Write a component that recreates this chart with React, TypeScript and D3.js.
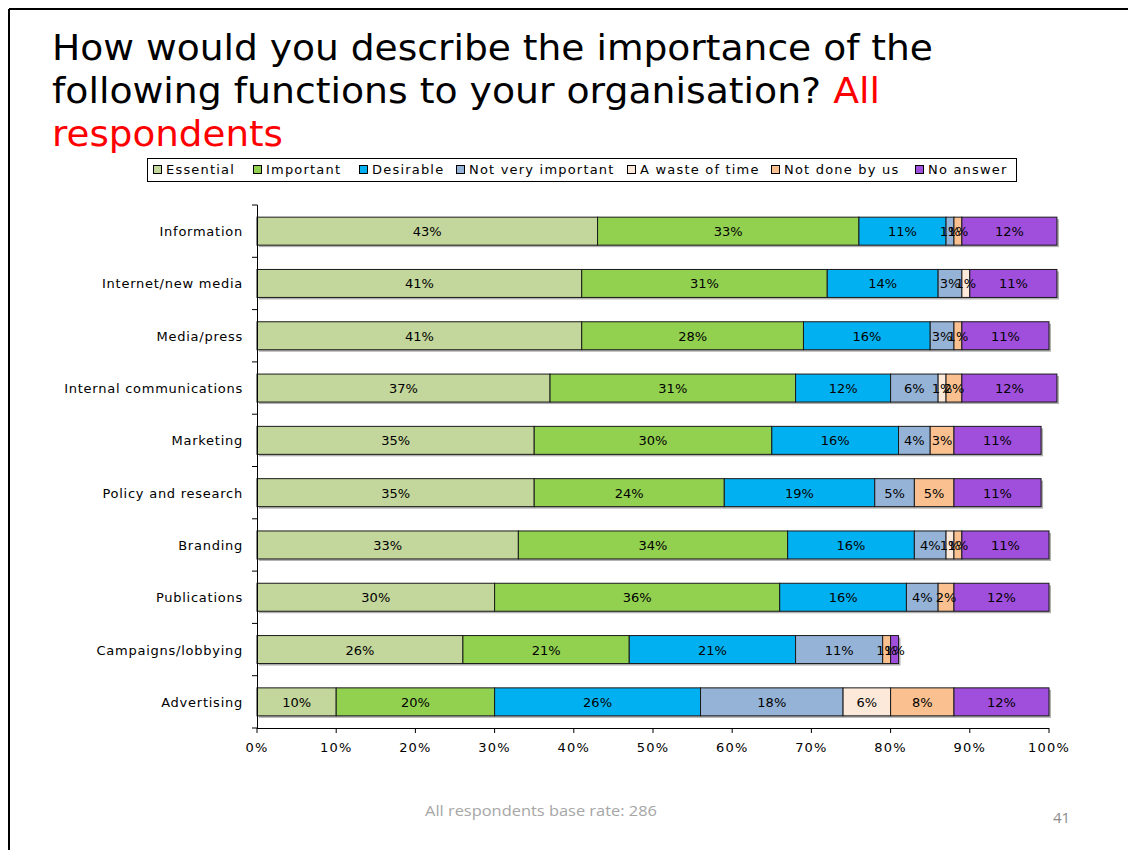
import React from "react";
import * as d3 from "d3";

const categories = [
  "Information",
  "Internet/new media",
  "Media/press",
  "Internal communications",
  "Marketing",
  "Policy and research",
  "Branding",
  "Publications",
  "Campaigns/lobbying",
  "Advertising",
];
const seriesNames = [
  "Essential",
  "Important",
  "Desirable",
  "Not very important",
  "A waste of time",
  "Not done by us",
  "No answer",
];
const essential = [43, 41, 41, 37, 35, 35, 33, 30, 26, 10];
const important = [33, 31, 28, 31, 30, 24, 34, 36, 21, 20];
const desirable = [11, 14, 16, 12, 16, 19, 16, 16, 21, 26];
const notVeryImportant = [1, 3, 3, 6, 4, 5, 4, 4, 11, 18];
const wasteOfTime = [0, 1, 0, 1, 0, 0, 1, 0, 0, 6];
const notDoneByUs = [1, 0, 1, 2, 3, 5, 1, 2, 1, 8];
const noAnswer = [12, 11, 11, 12, 11, 11, 11, 12, 1, 12];
const xTicks = [0, 10, 20, 30, 40, 50, 60, 70, 80, 90, 100];

const colors = ["#c3d69b", "#92d050", "#00b0f0", "#95b3d7", "#fde9d9", "#fac090", "#a04fdd"];
const legendX = [153, 253, 359, 456, 627, 771, 915];

const seriesValues = [essential, important, desirable, notVeryImportant, wasteOfTime, notDoneByUs, noAnswer];

const FONT = "'DejaVu Sans', Verdana, sans-serif";

export default function App() {
  const x = d3.scaleLinear().domain([0, 100]).range([257, 1049]);
  const y = d3.scaleBand<string>().domain(categories).range([205, 728]).paddingInner(0.465).paddingOuter(0.2325);
  const step = y.step();

  const rows = categories.map((c, i) => {
    const vals = seriesValues.map((s) => s[i]);
    const stack: { x0: number; x1: number; v: number; k: number }[] = [];
    let acc = 0;
    vals.forEach((v, k) => {
      stack.push({ x0: acc, x1: acc + v, v, k });
      acc += v;
    });
    return { c, stack, total: acc };
  });

  return (
    <svg width={1128} height={850} style={{ position: "absolute", left: 0, top: 0, background: "#fff" }}>
      {/* slide border */}
      <line x1={9} y1={9} x2={1128} y2={9} stroke="#000" strokeWidth={2} />
      <line x1={9} y1={9} x2={9} y2={850} stroke="#000" strokeWidth={2} />

      {/* title */}
      <g fontFamily={FONT} fontSize={36}>
        <text x={52} y={60} fill="#000" textLength={881} lengthAdjust="spacingAndGlyphs">
          How would you describe the importance of the
        </text>
        <text x={52} y={103} textLength={828} lengthAdjust="spacingAndGlyphs">
          <tspan fill="#000">following functions to your organisation? </tspan>
          <tspan fill="#ff0000">All</tspan>
        </text>
        <text x={52} y={146} fill="#ff0000" textLength={231} lengthAdjust="spacingAndGlyphs">
          respondents
        </text>
      </g>

      {/* legend */}
      <rect x={147.5} y={158.5} width={869} height={23} fill="#fff" stroke="#000" strokeWidth={1} />
      <g fontFamily={FONT} fontSize={13} letterSpacing={1.2}>
        {seriesNames.map((n, k) => (
          <g key={n}>
            <rect x={legendX[k] + 0.5} y={165.5} width={8} height={8} fill={colors[k]} stroke="#000" strokeWidth={1} />
            <text x={legendX[k] + 13} y={174} fill="#000">
              {n}
            </text>
          </g>
        ))}
      </g>

      {/* bars */}
      {rows.map((r) => {
        const y0 = y(r.c)!;
        const bh = y.bandwidth();
        return (
          <g key={r.c}>
            <rect x={x(0) + 2} y={y0 + 2} width={x(r.total) - x(0)} height={bh} fill="#b0b0b0" />
            {r.stack
              .filter((s) => s.v > 0)
              .map((s) => (
                <rect
                  key={s.k}
                  x={x(s.x0)}
                  y={y0}
                  width={x(s.x1) - x(s.x0)}
                  height={bh}
                  fill={colors[s.k]}
                  stroke="#1a1a1a"
                  strokeWidth={1}
                />
              ))}
            {r.stack
              .filter((s) => s.v > 0)
              .map((s) => (
                <text
                  key={"t" + s.k}
                  x={(x(s.x0) + x(s.x1)) / 2}
                  y={y0 + bh / 2 + 5}
                  textAnchor="middle"
                  fontFamily={FONT}
                  fontSize={13}
                  fill="#000"
                >
                  {s.v}%
                </text>
              ))}
            <text
              x={243}
              y={y0 + bh / 2 + 5}
              textAnchor="end"
              fontFamily={FONT}
              fontSize={13}
              letterSpacing={0.75}
              fill="#000"
            >
              {r.c}
            </text>
          </g>
        );
      })}

      {/* y axis */}
      <line x1={257.5} y1={205} x2={257.5} y2={728} stroke="#000" strokeWidth={1} />
      {d3.range(categories.length + 1).map((i) => (
        <line key={i} x1={252} y1={205 + i * step} x2={257.5} y2={205 + i * step} stroke="#000" strokeWidth={1} />
      ))}

      {/* x axis */}
      <line x1={257} y1={728.5} x2={1049} y2={728.5} stroke="#000" strokeWidth={1} />
      {xTicks.map((t) => (
        <g key={t}>
          <line x1={x(t)} y1={728} x2={x(t)} y2={733} stroke="#000" strokeWidth={1} />
          <text x={x(t)} y={752} textAnchor="middle" fontFamily={FONT} fontSize={13} letterSpacing={1.2} fill="#000">
            {t}%
          </text>
        </g>
      ))}

      {/* footer */}
      <text x={425} y={816} fontFamily="'Open Sans', 'Noto Sans', sans-serif" fontSize={14} fill="#a6a6a6" textLength={232} lengthAdjust="spacingAndGlyphs">
        All respondents base rate: 286
      </text>
      <text x={1053} y={823} fontFamily="'Open Sans', 'Noto Sans', sans-serif" fontSize={15} fill="#8c8c8c">
        41
      </text>
    </svg>
  );
}
